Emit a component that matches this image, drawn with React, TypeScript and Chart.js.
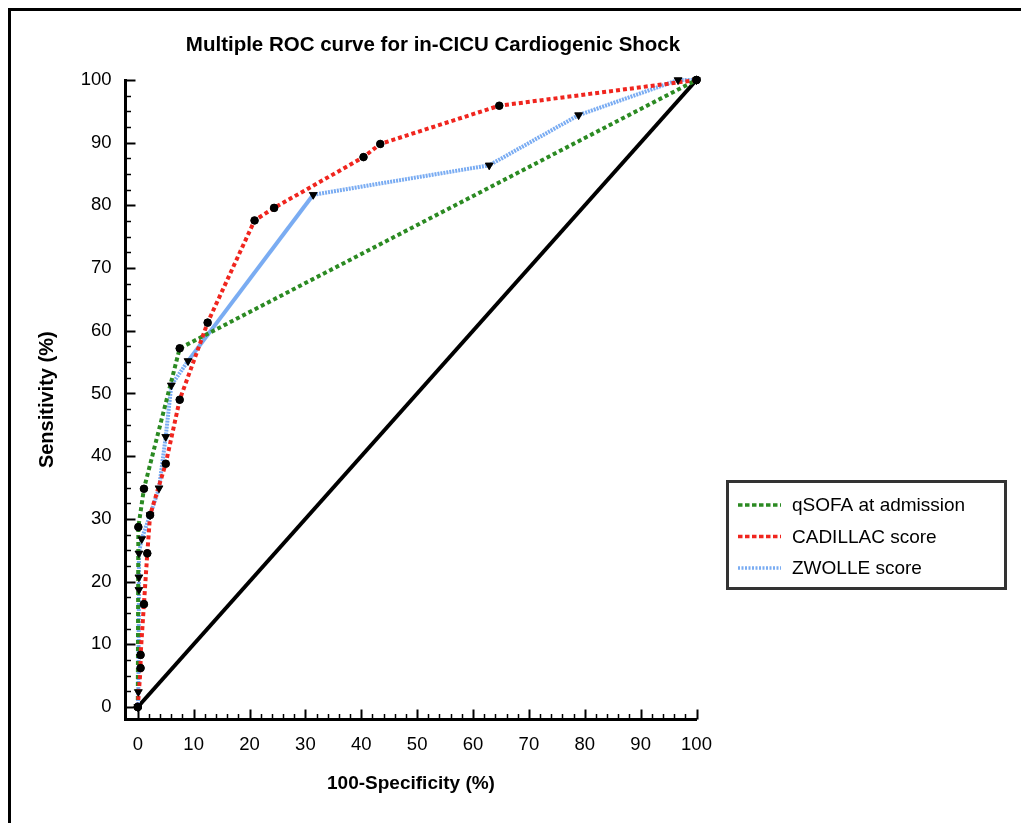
import React, { useEffect, useRef } from 'react';
import { Chart, registerables } from 'chart.js';

Chart.register(...registerables);

const TITLE = 'Multiple ROC curve for in-CICU Cardiogenic Shock';
const X_TITLE = '100-Specificity (%)';
const Y_TITLE = 'Sensitivity (%)';

const X_TICKS = [0, 10, 20, 30, 40, 50, 60, 70, 80, 90, 100];
const Y_TICKS = [0, 10, 20, 30, 40, 50, 60, 70, 80, 90, 100];
const X_MINOR_STEP = 2;
const Y_MINOR_STEP = 2.5;

const SERIES_LABELS = ['qSOFA at admission', 'CADILLAC score', 'ZWOLLE score'];

const QSOFA_X = [0, 0.1, 1.1, 7.5, 100];
const QSOFA_Y = [0, 28.7, 34.8, 57.2, 100];

const CADILLAC_X = [0, 0.5, 0.5, 1.1, 1.7, 2.2, 5.0, 7.5, 12.5, 20.9, 24.4, 40.4, 43.4, 64.7, 100];
const CADILLAC_Y = [0, 6.2, 8.3, 16.4, 24.5, 30.6, 38.8, 49.0, 61.3, 77.6, 79.6, 87.7, 89.8, 95.9, 100];

const ZWOLLE_X = [0, 0.1, 0.2, 0.2, 0.2, 0.7, 2.2, 3.8, 5.0, 6.0, 9.0, 31.4, 62.9, 78.9, 96.7, 100];
const ZWOLLE_Y = [0, 2.4, 18.7, 20.7, 24.5, 26.8, 30.6, 34.9, 43.1, 51.3, 55.2, 81.7, 86.4, 94.4, 100, 100];

const DIAG_X = [0, 100];
const DIAG_Y = [0, 100];

const FONT = "'Liberation Sans', Arial, Helvetica, sans-serif";
const GREEN = '#2b8a22';
const RED = '#f0251e';
const BLUE = '#7aacf2';

const toPts = (xs: number[], ys: number[]) => xs.map((x, i) => ({ x, y: ys[i] }));

const framePlugin = {
  id: 'frame',
  beforeDraw(chart: any) {
    const { ctx, width, height } = chart;
    ctx.save();
    ctx.fillStyle = '#fff';
    ctx.fillRect(0, 0, width, height);
    ctx.fillStyle = '#000';
    ctx.fillRect(8, 8, width - 8, 3);
    ctx.fillRect(8, 8, 3, height - 8);
    ctx.restore();
  },
};

const ticksPlugin = {
  id: 'inwardTicks',
  beforeDatasetsDraw(chart: any) {
    const { ctx, chartArea, scales } = chart;
    const x = scales.x;
    const y = scales.y;
    const ax = chartArea.left;
    const ay = chartArea.bottom;
    ctx.save();
    ctx.strokeStyle = '#000';
    ctx.lineCap = 'butt';
    const xMin = X_TICKS[0];
    const xMax = X_TICKS[X_TICKS.length - 1];
    for (let v = xMin; v <= xMax + 1e-6; v += X_MINOR_STEP) {
      const major = X_TICKS.includes(Math.round(v * 100) / 100);
      const px = Math.round(x.getPixelForValue(v)) + 0.5;
      ctx.lineWidth = major ? 2 : 1.5;
      ctx.beginPath();
      ctx.moveTo(px, ay);
      ctx.lineTo(px, ay - (major ? 10 : 5.5));
      ctx.stroke();
    }
    const yMin = Y_TICKS[0];
    const yMax = Y_TICKS[Y_TICKS.length - 1];
    for (let v = yMin; v <= yMax + 1e-6; v += Y_MINOR_STEP) {
      const major = Y_TICKS.includes(Math.round(v * 100) / 100);
      const py = Math.round(y.getPixelForValue(v)) + 0.5;
      ctx.lineWidth = major ? 2 : 1.5;
      ctx.beginPath();
      ctx.moveTo(ax, py);
      ctx.lineTo(ax + (major ? 10 : 5.5), py);
      ctx.stroke();
    }
    ctx.restore();
  },
};

const markersPlugin = {
  id: 'markersOnTop',
  afterDatasetsDraw(chart: any) {
    const { ctx } = chart;
    const area = { left: -1e4, top: -1e4, right: 1e4, bottom: 1e4 };
    const metas = chart.getSortedVisibleDatasetMetas().slice().reverse();
    metas.forEach((meta: any) => {
      meta.data.forEach((pt: any) => {
        if (pt.options && pt.options.radius > 0) pt.draw(ctx, area);
      });
    });
  },
};

const titlePlugin = {
  id: 'customTitle',
  afterDraw(chart: any) {
    const { ctx } = chart;
    ctx.save();
    ctx.fillStyle = '#000';
    ctx.font = `bold 20.5px ${FONT}`;
    ctx.textAlign = 'center';
    ctx.textBaseline = 'middle';
    ctx.fillText(TITLE, 433, 45);
    ctx.restore();
  },
};

const legendPlugin = {
  id: 'boxLegend',
  afterDraw(chart: any) {
    const { ctx } = chart;
    const items = chart.data.datasets.filter((d: any) => d.inLegend);
    ctx.save();
    ctx.strokeStyle = '#333';
    ctx.lineWidth = 3;
    ctx.strokeRect(727.5, 481.5, 278, 107);
    items.forEach((d: any, i: number) => {
      const yy = 505 + i * 31.5;
      ctx.strokeStyle = d.borderColor;
      ctx.lineWidth = 3.5;
      ctx.setLineDash(d.legendDash);
      ctx.beginPath();
      ctx.moveTo(738, yy);
      ctx.lineTo(781, yy);
      ctx.stroke();
      ctx.setLineDash([]);
      ctx.fillStyle = '#000';
      ctx.font = `19px ${FONT}`;
      ctx.textAlign = 'left';
      ctx.textBaseline = 'middle';
      ctx.fillText(d.label, 792, yy + 1);
    });
    ctx.restore();
  },
};

export default function App() {
  const ref = useRef<HTMLCanvasElement>(null);

  useEffect(() => {
    const canvas = ref.current;
    if (!canvas) return;
    const chart = new Chart(canvas, {
      type: 'scatter',
      data: {
        datasets: [
          {
            label: SERIES_LABELS[0],
            inLegend: true,
            legendDash: [4.5, 2.5],
            data: toPts(QSOFA_X, QSOFA_Y),
            showLine: true,
            borderColor: GREEN,
            borderWidth: 4,
            borderDash: [4, 3],
            pointStyle: 'circle',
            pointRadius: 3.8,
            pointBackgroundColor: '#000',
            pointBorderColor: '#000',
            pointBorderWidth: 0.5,
            clip: false,
            order: 2,
          },
          {
            label: SERIES_LABELS[1],
            inLegend: true,
            legendDash: [4.5, 2.5],
            data: toPts(CADILLAC_X, CADILLAC_Y),
            showLine: true,
            borderColor: RED,
            borderWidth: 4,
            borderDash: [4, 3],
            pointStyle: 'circle',
            pointRadius: 3.8,
            pointBackgroundColor: '#000',
            pointBorderColor: '#000',
            pointBorderWidth: 0.5,
            clip: false,
            order: 1,
          },
          {
            label: SERIES_LABELS[2],
            inLegend: true,
            legendDash: [2, 1.5],
            data: toPts(ZWOLLE_X, ZWOLLE_Y),
            showLine: true,
            borderColor: BLUE,
            borderWidth: 4,
            borderDash: [2, 1],
            segment: {
              borderDash: (c: any) => (c.p0DataIndex === 10 ? [] : [2, 1]),
            },
            pointStyle: 'triangle',
            rotation: 180,
            pointRadius: 4.5,
            pointBackgroundColor: '#000',
            pointBorderColor: '#000',
            pointBorderWidth: 0.5,
            clip: false,
            order: 3,
          },
          {
            label: 'Reference',
            inLegend: false,
            data: toPts(DIAG_X, DIAG_Y),
            showLine: true,
            borderColor: '#000',
            borderWidth: 4,
            pointRadius: 0,
            clip: false,
            order: 4,
          },
        ] as any,
      },
      options: {
        responsive: false,
        animation: false,
        layout: { padding: { left: 0, right: 324.5, top: 80, bottom: 0 } },
        plugins: {
          legend: { display: false },
          title: { display: false },
          tooltip: { enabled: false },
        },
        scales: {
          x: {
            type: 'linear',
            min: -2.2,
            max: 100,
            afterBuildTicks: (s: any) => {
              s.ticks = X_TICKS.map((v) => ({ value: v }));
            },
            afterFit: (s: any) => {
              s.height = 103.5;
            },
            ticks: {
              autoSkip: false,
              maxRotation: 0,
              padding: 14,
              color: '#000',
              font: { family: FONT, size: 18.5 },
              callback: (v: any) => String(v),
            },
            grid: { display: false, drawTicks: false },
            border: { display: true, color: '#000', width: 3 },
            title: {
              display: true,
              text: X_TITLE,
              color: '#000',
              font: { family: FONT, size: 19, weight: 'bold' },
              padding: { top: 0, bottom: 27.6 },
            },
          },
          y: {
            type: 'linear',
            min: -2,
            max: 100,
            afterBuildTicks: (s: any) => {
              s.ticks = Y_TICKS.map((v) => ({ value: v }));
            },
            afterFit: (s: any) => {
              s.width = 125.5;
            },
            ticks: {
              autoSkip: false,
              padding: 14,
              color: '#000',
              font: { family: FONT, size: 18.5 },
              callback: (v: any) => String(v),
            },
            grid: { display: false, drawTicks: false },
            border: { display: true, color: '#000', width: 3 },
            title: {
              display: true,
              text: Y_TITLE,
              color: '#000',
              font: { family: FONT, size: 20, weight: 'bold' },
              padding: { top: 35, bottom: 0 },
            },
          },
        },
      } as any,
      plugins: [framePlugin, ticksPlugin, markersPlugin, titlePlugin, legendPlugin],
    });
    return () => chart.destroy();
  }, []);

  return (
    <div style={{ position: 'fixed', left: 0, top: 0, width: 1021, height: 823, background: '#fff', overflow: 'hidden' }}>
      <canvas ref={ref} width={1021} height={823} style={{ display: 'block', width: 1021, height: 823 }} />
    </div>
  );
}
